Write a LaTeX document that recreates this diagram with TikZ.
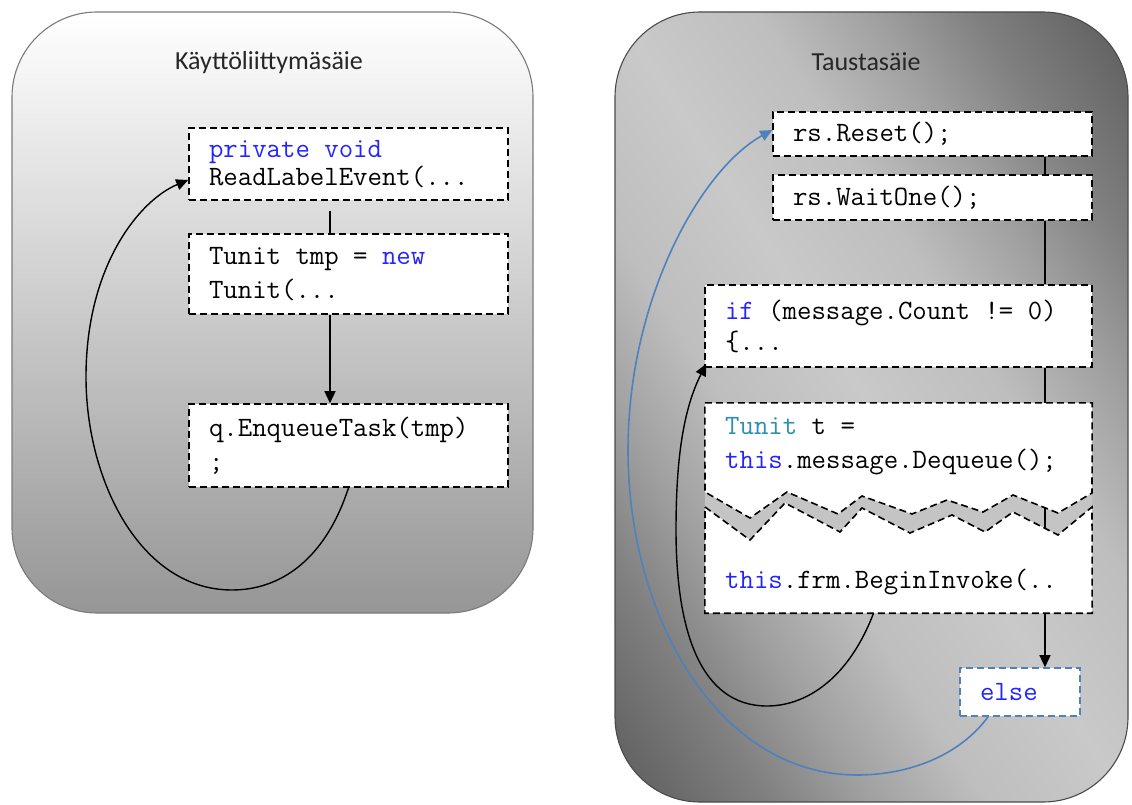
\documentclass[tikz,border=0pt]{standalone}
\usepackage{fontspec}
\setmainfont{Carlito}
\usetikzlibrary{arrows.meta}

\definecolor{kwblue}{HTML}{2424FF}
\definecolor{typeteal}{HTML}{2B91AF}
\definecolor{loopblue}{HTML}{4F81BD}
\definecolor{bandgray}{HTML}{C4C4C4}
\definecolor{panelbottom}{HTML}{969696}
\definecolor{panelline}{HTML}{7A7A7A}
\definecolor{pdark}{HTML}{5E5E5E}
\definecolor{pmidA}{HTML}{808080}
\definecolor{pmidB}{HTML}{A0A0A0}
\definecolor{plightB}{HTML}{BEBEBE}
\definecolor{plight}{HTML}{C9C9C9}

% diagonal panel shading: dark at two corners, light band along the diagonal
\pgfdeclarehorizontalshading{bgpanel}{100bp}{color(0bp)=(pdark); color(32.5bp)=(pdark);
  color(37.5bp)=(pmidA); color(41bp)=(pmidB); color(45bp)=(plightB);
  color(50bp)=(plight); color(55bp)=(plightB); color(59bp)=(pmidB);
  color(62.5bp)=(pmidA); color(67.5bp)=(pdark); color(100bp)=(pdark)}

\newcommand{\codesize}[1]{\ttfamily\fontsize{28}{#1}\selectfont}
% full-width spaces inside aligned node text
\newcommand{\monosp}{\spaceskip=0pt\xspaceskip=0pt\relax}

\tikzset{
  codebox/.style={draw=black, fill=white, dash pattern=on 7pt off 4pt,
    line width=1.6pt, inner xsep=20pt, inner ysep=0pt, align=left,
    font=\codesize{34}},
  boxline/.style={draw=black, fill=white, dash pattern=on 7pt off 4pt,
    line width=1.6pt, line join=miter},
  codetext/.style={inner sep=0pt, anchor=west, align=left, font=\codesize{34}},
  paneltitle/.style={font=\fontsize{26}{30}\selectfont, text=black!85},
  panelframe/.style={draw=panelline, line width=1.1pt, rounded corners=85pt},
  link/.style={draw=black, line width=1.5pt},
  headed/.style={-{Triangle[length=12pt,width=11pt]}},
  loopline/.style={draw=black, line width=1.4pt},
  bluelink/.style={draw=loopblue, line width=1.6pt}
}

\begin{document}
\begin{tikzpicture}[x=1pt,y=-1pt]
\useasboundingbox (0,0) rectangle (1132,805);

% --- UI thread panel
\shade[top color=white, bottom color=panelbottom, rounded corners=85pt]
  (12,12) rectangle (533,613);
\draw[panelframe] (12,12) rectangle (533,613);
\node[paneltitle] (uititle) at (269,63) {Käyttöliittymäsäie};

% --- background thread panel
\begin{scope}
  \clip[rounded corners=85pt] (615,12) rectangle (1128,802);
  \begin{scope}[transform canvas={rotate around={33:(871.5,407)}}]
    \shade[shading=bgpanel] (271.5,-193) rectangle (1471.5,1007);
  \end{scope}
\end{scope}
\draw[panelframe, draw=pdark!80!black] (615,12) rectangle (1128,802);
\node[paneltitle] (bgtitle) at (866,62) {Taustasäie};

% --- UI thread code blocks
\node[codebox, text width=279pt, minimum height=72pt, font=\codesize{28}]
  (b1) at (348.5,164)
  {\monosp\textcolor{kwblue}{private void}\\ReadLabelEvent(...};
\node[codebox, text width=279pt, minimum height=80pt] (b2) at (348.5,274)
  {\monosp Tunit tmp = \textcolor{kwblue}{new}\\Tunit(...};
\node[codebox, text width=279pt, minimum height=83pt] (b3) at (348.5,445.5)
  {q.EnqueueTask(tmp)\\;};

% --- background thread code blocks
\node[codebox, text width=279pt, minimum height=44pt] (r1) at (932.5,134)
  {rs.Reset();};
\node[codebox, text width=279pt, minimum height=45pt] (r2) at (932.5,197.5)
  {rs.WaitOne();};
\node[codebox, text width=347pt, minimum height=82pt, font=\codesize{31}]
  (r3) at (898.5,326)
  {\monosp\textcolor{kwblue}{if} (message.Count != 0)\\\{...};

% broken block: frame for anchors, gray band and the two halves
\node[minimum width=387pt, minimum height=210pt, inner sep=0pt] (r4) at (898.5,508) {};
\fill[bandgray] (1092,493) -- (1058,513) -- (1013,495) -- (983,512) -- (947,500)
  -- (912,514) -- (862,496) -- (838,514) -- (787,492) -- (750,518) -- (705,492)
  -- (705,507) -- (750,540) -- (785,503) -- (840,532) -- (862,508) -- (910,533)
  -- (952,515) -- (985,532) -- (1013,512) -- (1058,535) -- (1092,507) -- cycle;
\path[boxline] (r4.north west) -- (r4.north east) -- (1092,493) -- (1058,513)
  -- (1013,495) -- (983,512) -- (947,500) -- (912,514) -- (862,496) -- (838,514)
  -- (787,492) -- (750,518) -- (705,492) -- cycle;
\path[boxline] (705,507) -- (750,540) -- (785,503) -- (840,532) -- (862,508)
  -- (910,533) -- (952,515) -- (985,532) -- (1013,512) -- (1058,535) -- (1092,507)
  -- (r4.south east) -- (r4.south west) -- cycle;
\node[codetext] (r4a) at (725,446)
  {\monosp\textcolor{typeteal}{Tunit} t =\\\textcolor{kwblue}{this}.message.Dequeue();};
\node[codetext] (r4b) at (725,582)
  {\textcolor{kwblue}{this}.frm.BeginInvoke(..};

\node[codebox, draw=loopblue, text width=80pt, minimum height=48pt] (else) at (1020,692)
  {\textcolor{kwblue}{else}};

% --- UI thread connectors
\coordinate (lsp) at (330,0);
\path (b1.south) ++(0,10) coordinate (b1gap);
\draw[link] (b1gap -| lsp) -- (b2.north -| lsp);
\draw[link, headed] (b2.south -| lsp) -- (b3.north -| lsp);
\draw[loopline, headed] (b3.south) .. controls (325,560) and (280,590) .. (232,590)
  .. controls (140,590) and (86,480) .. (86,377)
  .. controls (86,265) and (140,200) .. ([yshift=-16pt]b1.west);

% --- background thread connectors
\coordinate (rsp) at (1045,0);
\coordinate (zzU) at (1045,508);
\coordinate (zzL) at (1045,528);
\draw[link] (r1.south -| rsp) -- (r2.north -| rsp);
\draw[link] (r2.south -| rsp) -- (r3.north -| rsp);
\draw[link] (r3.south -| rsp) -- (r4.north -| rsp);
\draw[link] (zzU) -- (zzL);
\draw[link, headed] (r4.south -| rsp) -- (else.north -| rsp);
\draw[loopline, headed] ([xshift=-25pt]r4.south) .. controls (848,680) and (805,706) .. (767,706)
  .. controls (700,706) and (676,630) .. (676,530)
  .. controls (676,460) and (683,410) .. ([xshift=2pt,yshift=4pt]r3.south west);
\draw[bluelink, headed] ([xshift=-32pt]else.south) .. controls (960,755) and (910,775) .. (857,775)
  .. controls (720,775) and (628,620) .. (628,450)
  .. controls (628,300) and (700,170) .. ([yshift=4pt]r1.west);
\end{tikzpicture}
\end{document}
